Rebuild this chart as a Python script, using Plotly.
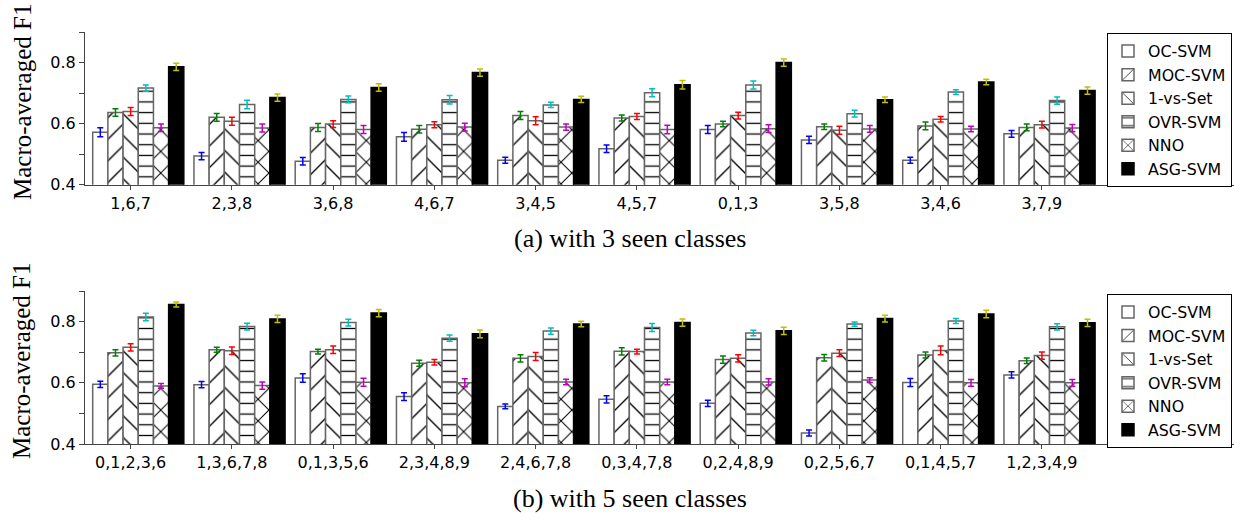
import plotly.graph_objects as go

methods = ["OC-SVM", "MOC-SVM", "1-vs-Set", "OVR-SVM", "NNO", "ASG-SVM"]
err_colors = ["#0000ff", "#008000", "#ff0000", "#00bfbf", "#bf00bf", "#bfbf00"]
patterns = ["", "/", "\\", "-", "x", ""]

cats_a = ["1,6,7", "2,3,8", "3,6,8", "4,6,7", "3,4,5", "4,5,7", "0,1,3", "3,5,8", "3,4,6", "3,7,9"]
cats_b = ["0,1,2,3,6", "1,3,6,7,8", "0,1,3,5,6", "2,3,4,8,9", "2,4,6,7,8",
          "0,3,4,7,8", "0,2,4,8,9", "0,2,5,6,7", "0,1,4,5,7", "1,2,3,4,9"]

# (a) 3 seen classes
oc_a   = [0.572, 0.494, 0.477, 0.557, 0.480, 0.518, 0.581, 0.547, 0.480, 0.567]
moc_a  = [0.637, 0.621, 0.588, 0.582, 0.627, 0.619, 0.599, 0.590, 0.593, 0.588]
ovs_a  = [0.640, 0.608, 0.599, 0.597, 0.610, 0.624, 0.627, 0.579, 0.615, 0.597]
ovr_a  = [0.717, 0.663, 0.680, 0.679, 0.662, 0.702, 0.727, 0.633, 0.704, 0.676]
nno_a  = [0.587, 0.586, 0.581, 0.589, 0.589, 0.581, 0.584, 0.583, 0.583, 0.586]
asg_a  = [0.787, 0.686, 0.719, 0.768, 0.680, 0.728, 0.801, 0.679, 0.737, 0.709]

oc_a_err  = [0.015, 0.012, 0.012, 0.014, 0.010, 0.012, 0.013, 0.012, 0.010, 0.011]
moc_a_err = [0.012, 0.013, 0.013, 0.012, 0.013, 0.010, 0.009, 0.009, 0.013, 0.011]
ovs_a_err = [0.013, 0.013, 0.011, 0.010, 0.013, 0.010, 0.011, 0.013, 0.009, 0.011]
ovr_a_err = [0.010, 0.014, 0.011, 0.014, 0.009, 0.013, 0.013, 0.011, 0.008, 0.012]
nno_a_err = [0.012, 0.013, 0.013, 0.013, 0.010, 0.014, 0.013, 0.011, 0.009, 0.012]
asg_a_err = [0.012, 0.012, 0.012, 0.012, 0.010, 0.014, 0.012, 0.009, 0.009, 0.012]

# (b) 5 seen classes
oc_b   = [0.595, 0.594, 0.616, 0.555, 0.523, 0.546, 0.533, 0.436, 0.601, 0.626]
moc_b  = [0.698, 0.708, 0.702, 0.664, 0.680, 0.703, 0.676, 0.682, 0.691, 0.672]
ovs_b  = [0.716, 0.705, 0.708, 0.667, 0.686, 0.702, 0.680, 0.697, 0.706, 0.689]
ovr_b  = [0.815, 0.784, 0.797, 0.746, 0.769, 0.781, 0.763, 0.792, 0.802, 0.783]
nno_b  = [0.590, 0.591, 0.602, 0.600, 0.603, 0.603, 0.603, 0.609, 0.600, 0.600]
asg_b  = [0.856, 0.809, 0.828, 0.760, 0.792, 0.797, 0.770, 0.810, 0.825, 0.796]

oc_b_err  = [0.010, 0.010, 0.014, 0.013, 0.008, 0.012, 0.010, 0.010, 0.013, 0.010]
moc_b_err = [0.010, 0.008, 0.008, 0.010, 0.012, 0.012, 0.012, 0.011, 0.010, 0.009]
ovs_b_err = [0.012, 0.012, 0.012, 0.009, 0.013, 0.008, 0.012, 0.011, 0.014, 0.012]
ovr_b_err = [0.012, 0.011, 0.011, 0.010, 0.010, 0.013, 0.009, 0.007, 0.008, 0.010]
nno_b_err = [0.008, 0.012, 0.013, 0.013, 0.009, 0.009, 0.010, 0.008, 0.011, 0.011]
asg_b_err = [0.008, 0.012, 0.012, 0.013, 0.009, 0.012, 0.012, 0.011, 0.012, 0.012]

vals_a = [oc_a, moc_a, ovs_a, ovr_a, nno_a, asg_a]
errs_a = [oc_a_err, moc_a_err, ovs_a_err, ovr_a_err, nno_a_err, asg_a_err]
vals_b = [oc_b, moc_b, ovs_b, ovr_b, nno_b, asg_b]
errs_b = [oc_b_err, moc_b_err, ovs_b_err, ovr_b_err, nno_b_err, asg_b_err]

y_ticks = [0.4, 0.5, 0.6, 0.7, 0.8, 0.9]
y_ticktext = ["0.4", "", "0.6", "", "0.8", ""]

W, H = 1234, 523
BAR_W = 0.15

fig = go.Figure()


def pattern_for(shape):
    if shape == "-":
        return dict(shape="-", size=10.7, solidity=0.12, fgcolor="#000000",
                    bgcolor="#ffffff", fillmode="replace")
    if shape == "x":
        return dict(shape="x", size=15.3, solidity=0.13, fgcolor="#000000",
                    bgcolor="#ffffff", fillmode="replace")
    if shape in ("/", "\\"):
        return dict(shape=shape, size=15.3, solidity=0.09, fgcolor="#000000",
                    bgcolor="#ffffff", fillmode="replace")
    return dict(shape="")


def add_panel(cats, vals, errs, xa, ya, legend):
    for j, m in enumerate(methods):
        solid = (j == 5)
        fig.add_trace(go.Bar(
            x=cats, y=vals[j], name=m,
            xaxis=xa, yaxis=ya, legend=legend,
            width=BAR_W, offset=-0.375 + j * BAR_W,
            marker=dict(
                color="#000000" if solid else "#ffffff",
                line=dict(color="#000000" if solid else "#666666", width=1.5),
                pattern=pattern_for(patterns[j]),
            ),
            error_y=dict(type="data", array=errs[j], color=err_colors[j],
                         thickness=1.5, width=3),
        ))


add_panel(cats_a, vals_a, errs_a, "x", "y", "legend")
add_panel(cats_b, vals_b, errs_b, "x2", "y2", "legend2")

x0 = 85 / W
x_range = [-0.451, 10.897]
dom_a = [1 - 188.3 / H, 1 - 33 / H]
dom_b = [1 - 452.7 / H, 1 - 296.7 / H]

axis_font = dict(family="DejaVu Sans", size=16, color="#000000")
xcommon = dict(type="category", range=x_range, showline=True, linecolor="#444444",
               linewidth=1.2, ticks="outside", ticklen=4, tickcolor="#444444",
               tickfont=axis_font, showgrid=False, zeroline=False, domain=[x0, 1])
ycommon = dict(range=[0.4, 0.9], tickvals=y_ticks, ticktext=y_ticktext,
               showline=True, linecolor="#444444", linewidth=1.2, ticks="outside",
               ticklen=5, tickcolor="#444444", tickfont=axis_font,
               showgrid=False, zeroline=False)

legend_common = dict(xanchor="right", yanchor="top", bgcolor="#ffffff",
                     bordercolor="#000000", borderwidth=1,
                     font=dict(family="DejaVu Sans", size=15.8, color="#000000"),
                     tracegroupgap=0)

title_font = dict(family="Liberation Serif", size=25, color="#000000")
cap_font = dict(family="Liberation Serif", size=26, color="#000000")

fig.update_layout(
    width=W, height=H,
    margin=dict(l=0, r=0, t=0, b=0),
    paper_bgcolor="#ffffff", plot_bgcolor="#ffffff",
    barmode="overlay",
    xaxis=dict(**xcommon, anchor="y"),
    yaxis=dict(**ycommon, domain=dom_a, anchor="x"),
    xaxis2=dict(**xcommon, anchor="y2"),
    yaxis2=dict(**ycommon, domain=dom_b, anchor="x2"),
    legend=dict(**legend_common, x=1232 / W, y=1 - 34 / H),
    legend2=dict(**legend_common, x=1232 / W, y=1 - 300 / H),
    annotations=[
        dict(text="Macro-averaged F1", x=22 / W, y=1 - 104 / H, xref="paper", yref="paper",
             textangle=-90, showarrow=False, xanchor="center", yanchor="middle",
             font=title_font),
        dict(text="Macro-averaged F1", x=22 / W, y=1 - 368 / H, xref="paper", yref="paper",
             textangle=-90, showarrow=False, xanchor="center", yanchor="middle",
             font=title_font),
        dict(text="(a) with 3 seen classes", x=630 / W, y=1 - 243 / H, xref="paper", yref="paper",
             showarrow=False, xanchor="center", yanchor="middle", font=cap_font),
        dict(text="(b) with 5 seen classes", x=630 / W, y=1 - 508 / H, xref="paper", yref="paper",
             showarrow=False, xanchor="center", yanchor="middle", font=cap_font),
    ],
)

fig.write_html("out.html", config={"displayModeBar": False},
               post_script="document.body.style.margin='0px';")
